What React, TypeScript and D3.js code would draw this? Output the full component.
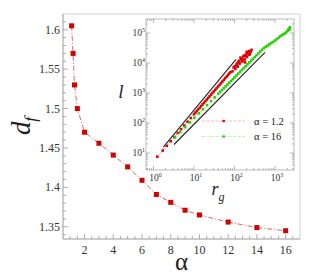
import { useMemo } from "react";
import * as d3 from "d3";

const WIDTH = 314;
const HEIGHT = 280;
const MAIN = { left: 63, top: 14, right: 300, bottom: 239 };
const INSET = { left: 146, top: 19, right: 294, bottom: 170 };

// main panel: fractal dimension vs alpha
const alphas = [1.1, 1.2, 1.3, 1.5, 2, 3, 4, 5, 6, 7, 8, 9, 10, 12, 14, 16];
const dfValues = [1.605, 1.57, 1.53, 1.5, 1.47, 1.456, 1.441, 1.426, 1.409, 1.391, 1.381, 1.371, 1.365, 1.356, 1.349, 1.345];
const xTickLabels = [2, 4, 6, 8, 10, 12, 14, 16];
const yTickLabels = [1.35, 1.4, 1.45, 1.5, 1.55, 1.6];

// inset: l vs r_g for alpha = 1.2 (red) and alpha = 16 (green)
const redRg = [1.24, 1.69, 2.12, 2.66, 3.27, 3.98, 4.79, 5.75, 6.92, 8.32,
  10, 10.8, 11.7, 12.7, 13.8, 15, 16.2, 17.6, 19.1, 20.7, 22.4, 24.3, 26.3, 28.5, 30.9, 33.5, 36.3, 39.4, 42.7, 46.2, 50.1, 54.3, 58.9, 63.8, 69.2, 74.1, 79.4,
  89, 95, 100, 105, 108, 112, 118, 120, 126, 130, 135, 141, 145, 150, 155, 160, 166, 172, 178, 182, 190, 195, 200, 204, 210, 219, 229, 230, 240, 250, 263];
const redL = [7.5, 12.1, 17.3, 24.7, 34, 46.4, 61.8, 82.4, 110, 147,
  195, 221, 251, 284, 323, 366, 415, 471, 533, 605, 686, 778, 883, 1000, 1135, 1286, 1459, 1652, 1875, 2128, 2410, 2735, 3100, 3516, 3990, 4446, 4945,
  5250, 7080, 7600, 6310, 8000, 8910, 9800, 7590, 11200, 11800, 9550, 15100, 13200, 14000, 11200, 12500, 16600, 17500, 13200, 10500, 19100, 17000, 23500, 15800, 21000, 22900, 25100, 19000, 20000, 24000, 27500];
const greenRg = [3.39, 4.57, 6.03, 7.94, 10.2, 13.2, 16.6, 20.9, 26.3, 32.4,
  39.8, 44.2, 49, 54.3, 60.3, 66.8, 74.1, 82.2, 91.2, 101, 112, 124, 138, 153, 170, 188, 209, 232, 257, 285, 316, 351, 389, 432, 479,
  531, 589, 653, 724, 804, 891, 989, 1096, 1216, 1349, 1479, 1622, 1778, 1905, 2042, 2163, 2265, 2344, 2188, 2291];
const greenL = [33.1, 49.8, 72.4, 105, 149, 210, 287, 393, 537, 713,
  944, 1087, 1253, 1443, 1660, 1910, 2200, 2535, 2917, 3357, 3865, 4448, 5130, 5900, 6790, 7820, 8995, 10380, 11940, 13740, 15810, 18200, 20990, 24150, 27800,
  31600, 34700, 38000, 41700, 45700, 50100, 55600, 61700, 69200, 77600, 85100, 91200, 97700, 107000, 117500, 128800, 141300, 155000, 135000, 132000];
const upperGuide = [[1.75, 15.8], [109, 13300]];
const lowerGuide = [[3.21, 19.2], [566, 22700]];
const legendLabels = ["\u03b1 = 1.2", "\u03b1 = 16"];

const SERIF = "'Liberation Serif', 'Times New Roman', serif";
const RED = "#d40000";
const GREEN = "#22d400";

const App = () => {
  const xScale = useMemo(() => d3.scaleLinear().domain([0.5, 17]).range([MAIN.left, MAIN.right]), []);
  const yScale = useMemo(() => d3.scaleLinear().domain([1.3345, 1.62]).range([MAIN.bottom, MAIN.top]), []);
  const ixScale = useMemo(() => d3.scaleLog().domain([0.653, 2944]).range([INSET.left, INSET.right]), []);
  const iyScale = useMemo(() => d3.scaleLog().domain([Math.pow(10, 0.433), Math.pow(10, 5.467)]).range([INSET.bottom, INSET.top]), []);

  const mainLine = d3.line<number>().x((d, i) => xScale(alphas[i])).y((d) => yScale(d))(dfValues) || "";
  const redLine = d3.line<number>().x((d) => ixScale(d)).y((d, i) => iyScale(redL[i]))(redRg) || "";
  const greenLine = d3.line<number>().x((d) => ixScale(d)).y((d, i) => iyScale(greenL[i]))(greenRg) || "";
  const guide = d3.line<number[]>().x((d) => ixScale(d[0])).y((d) => iyScale(d[1]));

  // minor ticks on main axes
  const xMinor = d3.range(1, 17, 0.5);
  const yMinor = d3.range(134, 162).map((v) => v / 100);

  const isDecade = (v) => Math.abs(Math.log10(v) - Math.round(Math.log10(v))) < 1e-6;
  const ixTicks = ixScale.ticks();
  const iyTicks = iyScale.ticks();

  return (
    <svg width={WIDTH} height={HEIGHT} style={{ position: "absolute", left: 0, top: 0, fontFamily: SERIF }}>
      <rect width={WIDTH} height={HEIGHT} fill="#fff" />

      {/* main frame */}
      <line x1={MAIN.left} x2={MAIN.right} y1={MAIN.top} y2={MAIN.top} stroke="#d0d0d0" />
      <line x1={MAIN.right} x2={MAIN.right} y1={MAIN.top} y2={MAIN.bottom} stroke="#d0d0d0" />
      <line x1={MAIN.left} x2={MAIN.left} y1={MAIN.top} y2={MAIN.bottom} stroke="#999" />
      <line x1={MAIN.left} x2={MAIN.right} y1={MAIN.bottom} y2={MAIN.bottom} stroke="#999" />

      {xMinor.map((t) => {
        const major = t % 2 === 0;
        return <line key={"xm" + t} x1={xScale(t)} x2={xScale(t)} y1={MAIN.bottom} y2={MAIN.bottom - (major ? 5 : 3)} stroke="#999" strokeWidth={0.8} />;
      })}
      {yMinor.map((t) => {
        const major = Math.round(t * 100) % 5 === 0;
        return <line key={"ym" + t} x1={MAIN.left} x2={MAIN.left + (major ? 5 : 3)} y1={yScale(t)} y2={yScale(t)} stroke="#999" strokeWidth={0.8} />;
      })}
      {xTickLabels.map((t) => (
        <text key={"xl" + t} x={xScale(t)} y={253.5} textAnchor="middle" fontSize={12} fill="#333">{t}</text>
      ))}
      {yTickLabels.map((t) => (
        <text key={"yl" + t} x={60} y={yScale(t) + 4} textAnchor="end" fontSize={12} fill="#333">{t}</text>
      ))}

      <text transform="translate(30,126) rotate(-90)" textAnchor="middle" fontSize={27} fontStyle="italic" fill="#222">
        d<tspan fontSize={17} dy={6}>f</tspan>
      </text>
      <text x={181.5} y={270} textAnchor="middle" fontSize={25} fill="#222">{"\u03b1"}</text>

      {/* main series */}
      <path d={mainLine} fill="none" stroke="#e03c3c" strokeWidth={0.8} strokeDasharray="5,2,1,2" />
      {dfValues.map((d, i) => (
        <rect key={"sq" + i} x={xScale(alphas[i]) - 2.5} y={yScale(d) - 2.5} width={5} height={5} fill={RED} />
      ))}

      {/* inset */}
      <rect x={INSET.left} y={INSET.top} width={INSET.right - INSET.left} height={INSET.bottom - INSET.top} fill="#fff" stroke="#aaa" strokeWidth={0.8} />
      {ixTicks.map((t, i) => {
        const len = isDecade(t) ? 4 : 2;
        const x = ixScale(t);
        return (
          <g key={"ix" + i} stroke="#888" strokeWidth={0.6}>
            <line x1={x} x2={x} y1={INSET.bottom} y2={INSET.bottom - len} />
            <line x1={x} x2={x} y1={INSET.top} y2={INSET.top + len} />
          </g>
        );
      })}
      {iyTicks.map((t, i) => {
        const len = isDecade(t) ? 4 : 2;
        const y = iyScale(t);
        return (
          <g key={"iy" + i} stroke="#888" strokeWidth={0.6}>
            <line x1={INSET.left} x2={INSET.left + len} y1={y} y2={y} />
            <line x1={INSET.right} x2={INSET.right - len} y1={y} y2={y} />
          </g>
        );
      })}
      {ixTicks.filter(isDecade).map((t) => (
        <text key={"ixl" + t} x={ixScale(t) + 2} y={181} textAnchor="middle" fontSize={9.5} fill="#333">
          10<tspan fontSize={6} dy={-4}>{Math.round(Math.log10(t))}</tspan>
        </text>
      ))}
      {iyTicks.filter(isDecade).map((t) => (
        <text key={"iyl" + t} x={145} y={iyScale(t) + 3} textAnchor="end" fontSize={9.5} fill="#333">
          10<tspan fontSize={6} dy={-4}>{Math.round(Math.log10(t))}</tspan>
        </text>
      ))}
      <text x={121} y={98} textAnchor="middle" fontSize={19} fontStyle="italic" fill="#222">l</text>
      <text x={218} y={195} textAnchor="middle" fontSize={18} fontStyle="italic" fill="#222">
        r<tspan fontSize={12} dy={6}>g</tspan>
      </text>

      <path d={guide(upperGuide) || ""} stroke="#222" strokeWidth={1.1} fill="none" />
      <path d={guide(lowerGuide) || ""} stroke="#222" strokeWidth={1.1} fill="none" />

      <path d={redLine} fill="none" stroke="#f08a8a" strokeWidth={0.8} strokeDasharray="3,1.5" />
      {redRg.map((r, i) => (
        <rect key={"r" + i} x={ixScale(r) - 1.3} y={iyScale(redL[i]) - 1.3} width={2.6} height={2.6} fill="#e00000" />
      ))}
      <path d={greenLine} fill="none" stroke="#8ce88c" strokeWidth={0.8} strokeDasharray="3,1.5" />
      {greenRg.map((r, i) => (
        <rect key={"g" + i} x={ixScale(r) - 1.3} y={iyScale(greenL[i]) - 1.3} width={2.6} height={2.6} fill={GREEN} />
      ))}

      {/* legend */}
      {legendLabels.map((label, i) => {
        const y = 121 + i * 15.5;
        const color = i === 0 ? "#e00000" : GREEN;
        const pale = i === 0 ? "#f6bcbc" : "#bdf2bd";
        return (
          <g key={label}>
            <line x1={202} x2={245} y1={y} y2={y} stroke={pale} strokeWidth={1} strokeDasharray="3,1.5" />
            <rect x={222.5} y={y - 1.2} width={2.4} height={2.4} fill={color} />
            <text x={254} y={y + 3.5} fontSize={10.5} fill="#222">{label}</text>
          </g>
        );
      })}
    </svg>
  );
};

export default App;
